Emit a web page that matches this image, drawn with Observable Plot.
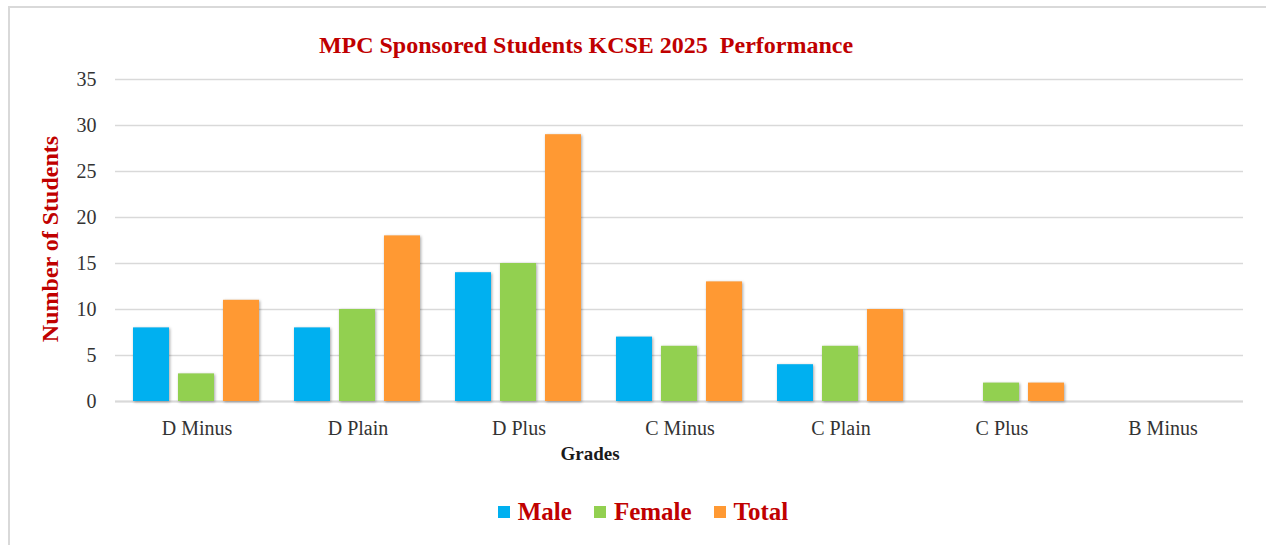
<!DOCTYPE html>
<html>
<head>
<meta charset="utf-8">
<script src="https://cdn.jsdelivr.net/npm/d3@7"></script>
<script src="https://cdn.jsdelivr.net/npm/@observablehq/plot@0.6"></script>
<style>
  html, body { margin: 0; padding: 0; background: #fff; }
  #wrap { position: relative; width: 1266px; height: 545px; overflow: hidden; font-family: "Liberation Serif", serif; }
  #frame { position: absolute; left: 8px; top: 6px; width: 1400px; height: 700px; border-top: 2px solid #d9d9d9; border-left: 2px solid #d9d9d9; }
  .layer { position: absolute; left: 0; top: 0; }
  .bars g[aria-label="bar"] rect { filter: drop-shadow(1.5px 1.5px 1.5px rgba(0,0,0,0.35)); }
  #title { position: absolute; left: 0; width: 1172px; top: 32px; text-align: center; color: #c00000; font-weight: bold; font-size: 24px; white-space: pre; }
  #ylabel { position: absolute; left: 50px; top: 239px; transform: translate(-50%, -50%) rotate(-90deg); color: #c00000; font-weight: bold; font-size: 24px; white-space: nowrap; }
  #xlabel { position: absolute; left: 0; width: 1180px; top: 443px; text-align: center; color: #1a1a1a; font-weight: bold; font-size: 19px; }
  #legend { position: absolute; left: 0; width: 1286px; top: 498px; display: flex; justify-content: center; gap: 22px; }
  .item { display: flex; align-items: center; gap: 8px; color: #c00000; font-weight: bold; font-size: 25px; }
  .sw { width: 12px; height: 12px; }
</style>
</head>
<body>
<div id="wrap">
  <div id="frame"></div>
  <div id="title"></div>
  <div id="ylabel"></div>
  <div id="xlabel"></div>
  <div id="legend"></div>
</div>
<script>
const grades = ["D Minus", "D Plain", "D Plus", "C Minus", "C Plain", "C Plus", "B Minus"];
const series = ["Male", "Female", "Total"];
const male = [8, 8, 14, 7, 4, 0, 0];
const female = [3, 10, 15, 6, 6, 2, 0];
const total = [11, 18, 29, 13, 10, 2, 0];
const colors = ["#00b0f0", "#92d050", "#ff9933"];
const yTicks = [0, 5, 10, 15, 20, 25, 30, 35];
const titleText = "MPC Sponsored Students KCSE 2025  Performance";
const yLabelText = "Number of Students";
const xLabelText = "Grades";

const values = [male, female, total];
const data = grades.flatMap((g, i) => series.map((s, j) => ({grade: g, series: s, value: values[j][i]})));

const W = 1266, H = 545;
const common = {width: W, height: H, marginLeft: 115, marginRight: 23, marginTop: 79, marginBottom: 144,
  style: {fontFamily: "'Liberation Serif', serif", background: "transparent", overflow: "visible"}};

const wrap = document.getElementById("wrap");

// background: grid, axes
const bg = Plot.plot({
  ...common,
  x: {type: "band", domain: grades, padding: 0},
  y: {domain: [0, 35]},
  marks: [
    Plot.gridY(yTicks, {stroke: "#d9d9d9", strokeOpacity: 1, strokeWidth: 1.5}),
    Plot.ruleY([0], {stroke: "#d9d9d9", strokeWidth: 2}),
    Plot.axisY(yTicks, {tickSize: 0, tickPadding: 19, fontSize: 20, fill: "#333", label: null}),
    Plot.axisX({tickSize: 0, tickPadding: 19, fontSize: 20, fill: "#333", label: null})
  ]
});
bg.classList.add("layer");
wrap.insertBefore(bg, document.getElementById("title"));

// foreground: grouped bars
const fg = Plot.plot({
  ...common,
  fx: {domain: grades, paddingInner: 0.22, paddingOuter: 0.11, axis: null, label: null},
  x: {domain: series, paddingInner: 0.2, paddingOuter: 0, axis: null},
  y: {domain: [0, 35], axis: null},
  color: {domain: series, range: colors},
  marks: [
    Plot.barY(data, {fx: "grade", x: "series", y: "value", fill: "series", filter: d => d.value > 0})
  ]
});
fg.classList.add("layer", "bars");
wrap.insertBefore(fg, document.getElementById("title"));

document.getElementById("title").textContent = titleText;
document.getElementById("ylabel").textContent = yLabelText;
document.getElementById("xlabel").textContent = xLabelText;
const legend = document.getElementById("legend");
series.forEach((s, i) => {
  const it = document.createElement("div");
  it.className = "item";
  const sw = document.createElement("div");
  sw.className = "sw";
  sw.style.background = colors[i];
  const t = document.createElement("span");
  t.textContent = s;
  it.appendChild(sw); it.appendChild(t);
  legend.appendChild(it);
});
</script>
</body>
</html>
